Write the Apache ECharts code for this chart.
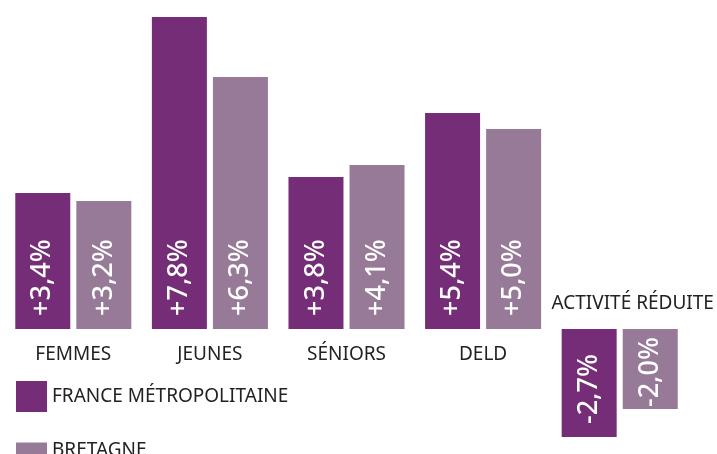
<!DOCTYPE html>
<html>
<head>
<meta charset="utf-8">
<script src="https://cdn.jsdelivr.net/npm/echarts@6/dist/echarts.min.js"></script>
<style>
html,body{margin:0;padding:0;background:#fff;}
#chart{width:717px;height:454px;}
</style>
</head>
<body>
<div id="chart"></div>
<script>
var categories = ['FEMMES', 'JEUNES', 'SÉNIORS', 'DELD', 'ACTIVITÉ RÉDUITE'];
var franceVals = [3.4, 7.8, 3.8, 5.4, -2.7];
var bretagneVals = [3.2, 6.3, 4.1, 5.0, -2.0];
var seriesNames = ['FRANCE MÉTROPOLITAINE', 'BRETAGNE'];

var colFrance = '#742d76';
var colBretagne = '#967a98';
var fontFam = '"Noto Sans", sans-serif';

function fmtPct(p){
	var v = p.value;
	return (v > 0 ? '+' : '') + v.toFixed(1).replace('.', ',') + '%';
}

var barLabel = {
	show: true,
	position: 'insideBottom',
	rotate: 90,
	align: 'left',
	verticalAlign: 'middle',
	distance: 13,
	color: '#fff',
	fontSize: 27,
	fontWeight: 500,
	fontFamily: fontFam,
	formatter: fmtPct
};

// category data: last label sits above the zero line
var catData = categories.map(function(c, i){
	if(i == categories.length - 1){
		return {value: c, textStyle: {verticalAlign: 'bottom', padding: [0, 0, 32, 26]}};
	}
	return c;
});

function legendAt(name, top, h){
	return {
		orient: 'vertical',
		left: 16,
		top: top,
		padding: 0,
		itemWidth: 31,
		itemHeight: h,
		icon: 'rect',
		textStyle: {fontSize: 19, color: '#222', fontFamily: fontFam},
		data: [name]
	};
}

var chart = echarts.init(document.getElementById('chart'));
chart.setOption({
	animation: false,
	// second legend item is cut by the bottom edge in the original
	legend: [legendAt(seriesNames[0], 381, 31), legendAt(seriesNames[1], 441, 16)],
	// grid bottom = zero line; negative bars drawn below it (clip off)
	grid: {left: 5, right: 29, top: 9, bottom: 125, containLabel: false, outerBoundsMode: 'none'},
	xAxis: {
		type: 'category',
		data: catData,
		axisLine: {show: false},
		axisTick: {show: false},
		axisLabel: {
			interval: 0,
			hideOverlap: false,
			margin: 16,
			fontSize: 19,
			color: '#222',
			fontFamily: fontFam
		}
	},
	yAxis: {
		type: 'value',
		min: 0,
		max: 8,
		show: false
	},
	series: [
		{
			name: seriesNames[0],
			type: 'bar',
			clip: false,
			barWidth: 55,
			barGap: '11%',
			itemStyle: {color: colFrance},
			label: barLabel,
			data: franceVals
		},
		{
			name: seriesNames[1],
			type: 'bar',
			clip: false,
			barWidth: 55,
			itemStyle: {color: colBretagne},
			label: barLabel,
			data: bretagneVals.map(function(v, i){
				// short negative bar: label pushed to its end
				return i == 4 ? {value: v, label: {distance: 2}} : v;
			})
		}
	]
});
</script>
</body>
</html>
